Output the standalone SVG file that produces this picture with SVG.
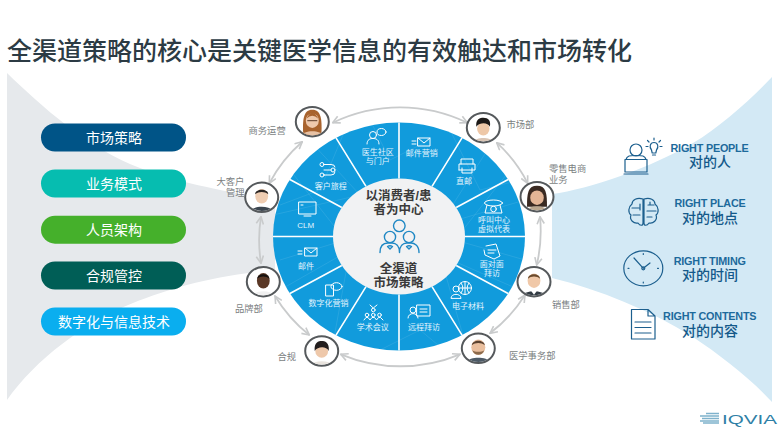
<svg xmlns="http://www.w3.org/2000/svg" width="780" height="433" viewBox="0 0 780 433">
<style>
text{font-family:"Liberation Sans","Noto Sans CJK SC",sans-serif}
.title{font-size:25px;font-weight:500;fill:#2c3b44}
.pill{font-size:14px;fill:#fff;text-anchor:middle}
.out{font-size:9.3px;fill:#7b7f82}
.wl{font-size:8px;fill:#e3f4fc;text-anchor:middle}
.ctr{font-size:12.5px;font-weight:700;fill:#3a3a3a;text-anchor:middle}
.en{font-size:10.8px;font-weight:700;fill:#1d6a9c;letter-spacing:-.2px}
.cn{font-size:14px;font-weight:500;fill:#14598a}
.rt{text-anchor:middle}
.div{stroke:#fff;stroke-width:1.6;fill:none}
.faint{stroke:#6fc3ea;stroke-width:.6;fill:none;opacity:.4}
.ic{fill:none;stroke:#fff;stroke-width:1;stroke-linecap:round;stroke-linejoin:round}
.ib{fill:none;stroke:#1f88c4;stroke-width:1.4;stroke-linecap:round;stroke-linejoin:round}
.rg{fill:none;stroke:#1c5f8e;stroke-width:1.2;stroke-linecap:round;stroke-linejoin:round}
.arr{fill:none;stroke:#c9cbcc;stroke-width:1.8;marker-start:url(#ah);marker-end:url(#ah)}
.ring{fill:#fff;stroke:#55595c;stroke-width:2}
</style>
<defs>
<marker id="ah" viewBox="0 0 10 10" refX="9" refY="5" markerWidth="9" markerHeight="9" markerUnits="userSpaceOnUse" orient="auto-start-reverse"><path d="M1 1L9 5L1 9" fill="none" stroke="#c9cbcc" stroke-width="1.8"/></marker>
<clipPath id="pc"><ellipse rx="15.400" ry="13.600"/></clipPath>
<clipPath id="wc"><ellipse cx="399" cy="236.500" rx="126" ry="114"/></clipPath>
</defs>
<rect width="780" height="433" fill="#fff"/>
<text class="title" x="7" y="60">全渠道策略的核心是关键医学信息的有效触达和市场转化</text>

<path id="funnel-left" d="M7 73C40 105 90 150 140 168C175 181 215 190 275 200L275 270C215 275 170 288 133 303C85 322 35 360 7 400Z" fill="#e6e9ec"/>
<path id="funnel-right" d="M552 194C590 189 650 168 693 143C720 127 750 100 772 77L772 402C750 378 720 355 693 337C650 310 600 290 552 278Z" fill="#d3e9f5"/>

<g id="pills">
<g id="pill-1"><rect x="41" y="123.500" width="145" height="28" rx="14" fill="#005487"/><text class="pill" x="114" y="142.500">市场策略</text></g>
<g id="pill-2"><rect x="41" y="169.500" width="145" height="28" rx="14" fill="#06bdb0"/><text class="pill" x="114" y="188.500">业务模式</text></g>
<g id="pill-3"><rect x="41" y="215.700" width="145" height="28" rx="14" fill="#45b02b"/><text class="pill" x="114" y="234.700">人员架构</text></g>
<g id="pill-4"><rect x="41" y="261.500" width="145" height="28" rx="14" fill="#005e56"/><text class="pill" x="114" y="280.500">合规管控</text></g>
<g id="pill-5"><rect x="41" y="307.500" width="145" height="28" rx="14" fill="#0aaeef"/><text class="pill" x="114" y="326.500">数字化与信息技术</text></g>
</g>

<g id="connectors">
<path class="arr" d="M332.700 122.700A155 155 0 0 1 467.300 122.700"/>
<path class="arr" d="M496.700 142.700A140 140 0 0 1 527.700 183.300"/>
<path class="arr" d="M540 216.700A145 145 0 0 1 536.700 265"/>
<path class="arr" d="M525 295A145 145 0 0 1 490 333.300"/>
<path class="arr" d="M460 354.300A155 155 0 0 1 340.700 354.300"/>
<path class="arr" d="M309.300 335A145 145 0 0 1 275 296"/>
<path class="arr" d="M261 263.300A145 145 0 0 1 261 216.700"/>
<path class="arr" d="M269.300 183.300A145 145 0 0 1 302.300 141.700"/>
</g>

<g id="wheel">
<ellipse cx="399" cy="236.500" rx="126" ry="114" fill="#119bdc"/>
<g clip-path="url(#wc)">
<path class="faint" d="M273 215L360 195L300 130M525 200L440 225L500 130M280 290L350 250L330 360M520 290L440 255L470 360M290 170L345 240L280 260M510 170L455 240L525 260M370 120L390 160L430 140M380 350L420 330L450 355M450 130L480 190L520 180M345 130L320 190L280 205"/>
</g>
<path class="div" d="M399 178.500V122.500M432 186.300L462 137.800M456.200 207.500L508.100 179.500M465 236.500H525M456.200 265.500L508.100 293.500M432 286.700L462 335.200M399 294.500V350.500M366 286.700L336 335.200M341.800 265.500L289.900 293.500M333 236.500H273M341.800 207.500L289.900 179.500M366 186.300L336 137.800"/>
<ellipse cx="399" cy="236.500" rx="66" ry="58" fill="#f1f2f3"/>
</g>

<g id="center">
<text class="ctr"><tspan x="398.500" y="200">以消费者/患</tspan><tspan x="398.500" y="214.200">者为中心</tspan></text>
<g class="ib">
<circle cx="399.300" cy="225.800" r="5.800"/>
<circle cx="390" cy="237" r="5.600"/>
<circle cx="409" cy="237" r="5.600"/>
<path d="M380 252.500C380 244 385 243 388 243L392 243C396 243 399.500 246 399.500 252.500C399.500 246 403 243 407 243L411 243C414 243 419 245 419 252.500"/>
<path d="M387.500 246.500L390 249L392.500 246.500Q390 245 387.500 246.500ZM406.500 246.500L409 249L411.500 246.500Q409 245 406.500 246.500Z"/>
</g>
<text class="ctr"><tspan x="398.500" y="273">全渠道</tspan><tspan x="398.500" y="287.200">市场策略</tspan></text>
</g>

<g id="segments">
<g id="seg-community"><path class="ic" d="M367 144C367 139.500 370 138.500 373 138.500C376 138.500 379 139.500 379 144"/><circle class="ic" cx="373" cy="135" r="3.500"/><ellipse class="ic" cx="381.500" cy="132" rx="4.500" ry="3.500"/><text class="wl"><tspan x="377.700" y="154.500">医生社区</tspan><tspan x="377.700" y="163.600">与门户</tspan></text></g>
<g id="seg-email-mkt"><rect class="ic" x="418" y="138" width="12" height="8"/><path class="ic" d="M418 138L424 143L430 138M412 141H416M412 144H416"/><text class="wl" x="421.700" y="156">邮件营销</text></g>
<g id="seg-mail"><path class="ic" d="M461 164V159H473V164M459 170V164H475V170H459M462 168V173H472V168"/><text class="wl" x="464" y="184">直邮</text></g>
<g id="seg-call"><ellipse class="ic" cx="493.500" cy="203" rx="9" ry="3"/><path class="ic" d="M487 205L485 213H502L500 205"/><circle class="ic" cx="493.500" cy="209" r="2.800"/><text class="wl"><tspan x="494" y="223.300">呼叫中心</tspan><tspan x="494" y="232.400">虚拟代表</tspan></text></g>
<g id="seg-f2f"><path class="ic" d="M486 246L496 244L500 256L494 259L485 255L484 250M488 250H496M488 253H494"/><text class="wl"><tspan x="491.700" y="266.800">面对面</tspan><tspan x="492" y="275.900">拜访</tspan></text></g>
<g id="seg-ematerial"><circle class="ic" cx="465" cy="288" r="6.500"/><path class="ic" d="M458.500 288H471.500M465 281.500V294.500M461 283Q465 288 461 293M469 283Q465 288 469 293"/><circle class="ic" cx="456" cy="289" r="3"/><path class="ic" d="M451 298C451 293 461 293 461 298Z"/><text class="wl" x="468" y="309">电子材料</text></g>
<g id="seg-remote"><rect class="ic" x="417" y="305" width="13" height="11"/><circle class="ic" cx="413" cy="310" r="3"/><path class="ic" d="M408 318C408 312 418 312 418 318M420 309H427M420 312H427"/><text class="wl" x="424" y="329.500">远程拜访</text></g>
<g id="seg-academic"><circle class="ic" cx="373.300" cy="310" r="1.800"/><circle class="ic" cx="367" cy="315" r="1.800"/><circle class="ic" cx="373.300" cy="315" r="1.800"/><circle class="ic" cx="379.500" cy="315" r="1.800"/><path class="ic" d="M364 320L366 317.500H368L370 320L372 317.500H374.500L376.500 320L378.500 317.500H380.500L383 320M370 305L373.300 308L377 305"/><text class="wl" x="372.700" y="329.500">学术会议</text></g>
<g id="seg-digital"><rect class="ic" x="326" y="285" width="7.500" height="11"/><ellipse class="ic" cx="336.500" cy="286.500" rx="5.500" ry="3.800"/><text class="wl" x="328.600" y="306">数字化营销</text></g>
<g id="seg-email"><rect class="ic" x="305" y="248" width="12" height="8"/><path class="ic" d="M305 248L311 253L317 248M298 251H302M298 254H302"/><text class="wl" x="306" y="268.500">邮件</text></g>
<g id="seg-clm"><rect class="ic" x="299" y="202" width="17" height="12"/><path class="ic" d="M304 216H311M301 205H303"/><text class="wl" x="305.700" y="228">CLM</text></g>
<g id="seg-journey"><circle class="ic" cx="322" cy="164.500" r="2"/><circle class="ic" cx="322" cy="175" r="2"/><circle class="ic" cx="333" cy="170" r="2"/><path class="ic" d="M324 164.500H331Q335 164.500 335 167M324 175H331Q335 175 335 172M324 170H331"/><text class="wl" x="330.700" y="189">客户旅程</text></g>
</g>

<g id="node-ops"><ellipse class="ring" cx="312.300" cy="121.700" rx="16.500" ry="14.700"/><g transform="translate(312.300 121.700)" clip-path="url(#pc)"><path d="M-9 14C-10 -2 -9 -12 0 -12C9 -12 10 -2 9 14Z" fill="#a8632e"/><path d="M-12 14C-8 8 8 8 12 14V16H-12Z" fill="#e7c2a5"/><ellipse cy="-1" rx="6.500" ry="7.200" fill="#eec9ad"/><path d="M-6 -3Q0 -9 6 -3Q3 -9 0 -9Q-3 -9 -6 -3Z" fill="#a8632e"/><path d="M-5 -1H5" stroke="#5a3a28" stroke-width="1"/></g><text class="out" x="248.500" y="134">商务运营</text></g>
<g id="node-market"><ellipse class="ring" cx="483.300" cy="127.700" rx="16.500" ry="14.700"/><g transform="translate(483.300 127.700)" clip-path="url(#pc)"><path d="M-10 14C-7 9 7 9 10 14V16H-10Z" fill="#d9c5b5"/><ellipse cy="1" rx="6.200" ry="6.800" fill="#eec8a8"/><path d="M-7 -1C-8 -9 -3 -10 0 -10C5 -10 8 -7 6.500 -1C5 -5 -3 -6 -7 -1Z" fill="#1d1a18"/></g><text class="out" x="506.500" y="127.500">市场部</text></g>
<g id="node-retail"><ellipse class="ring" cx="537" cy="196.700" rx="16.500" ry="14.700"/><g transform="translate(537 196.700)" clip-path="url(#pc)"><path d="M-10 10C-10 -4 -9 -11 0 -11C9 -11 10 -4 10 10Z" fill="#3a2a22"/><path d="M-12 14C-7 8 7 8 12 14V16H-12Z" fill="#b9a68e"/><ellipse cy="1" rx="6.800" ry="7.200" fill="#e3b596"/></g><text class="out"><tspan x="549" y="171.500">零售电商</tspan><tspan x="549" y="182.500">业务</tspan></text></g>
<g id="node-sales"><ellipse class="ring" cx="534" cy="281.700" rx="16.500" ry="14.700"/><g transform="translate(534 281.700)" clip-path="url(#pc)"><path d="M-13 14C-8 8 8 8 13 14V16H-13Z" fill="#333c44"/><path d="M-3 9L0 13L3 9Z" fill="#fff"/><ellipse cy="-1" rx="6.400" ry="7.200" fill="#f0c8a8"/><path d="M-6 -3C-6 -9 6 -9 6 -3C3 -6 -3 -6 -6 -3Z" fill="#6a4a2c"/></g><text class="out" x="552" y="307.500">销售部</text></g>
<g id="node-medical"><ellipse class="ring" cx="478.300" cy="348.300" rx="16.500" ry="14.700"/><g transform="translate(478.300 348.300)" clip-path="url(#pc)"><path d="M-13 14C-8 8 8 8 13 14V16H-13Z" fill="#4d5a66"/><ellipse cy="-1" rx="7" ry="7.800" fill="#eabf9e"/><path d="M-6.500 -3C-6 -9 6 -9 6.500 -3C3 -6 -3 -6 -6.500 -3Z" fill="#5a4230"/><path d="M-6 2C-4 8 4 8 6 2C3 4 -3 4 -6 2Z" fill="#8b6a4c"/></g><text class="out" x="509" y="358.500">医学事务部</text></g>
<g id="node-compliance"><ellipse class="ring" cx="321.700" cy="351" rx="16.500" ry="14.700"/><g transform="translate(321.700 351)" clip-path="url(#pc)"><path d="M-12 14C-7 9 7 9 12 14V16H-12Z" fill="#e9e4de"/><ellipse cy="0" rx="6.400" ry="6.800" fill="#eec8aa"/><path d="M-7 0C-8 -9 -3 -10 0 -10C3 -10 8 -9 7 0C5 -5 -4 -5 -7 0Z" fill="#231e1e"/></g><text class="out" x="277.500" y="360">合规</text></g>
<g id="node-brand"><ellipse class="ring" cx="263.300" cy="281.700" rx="16.500" ry="14.700"/><g transform="translate(263.300 281.700)" clip-path="url(#pc)"><path d="M-12 14C-7 8 7 8 12 14V16H-12Z" fill="#f0f0f0"/><ellipse cy="-1" rx="6.400" ry="7.800" fill="#5a3826"/><path d="M-6 -3C-6 -9 6 -9 6 -3C3 -6 -3 -6 -6 -3Z" fill="#15100e"/></g><text class="out" x="235" y="311.500">品牌部</text></g>
<g id="node-key"><ellipse class="ring" cx="261.700" cy="197.300" rx="16.500" ry="14.700"/><g transform="translate(261.700 197.300)" clip-path="url(#pc)"><path d="M-12 14C-7 8 7 8 12 14V16H-12Z" fill="#3c4650"/><ellipse cy="-1" rx="6.400" ry="7.200" fill="#efcdb2"/><path d="M-6.500 -3C-7 -9 7 -9 6.500 -3C3 -6 -3 -6 -6.500 -3Z" fill="#2b2624"/></g><text class="out"><tspan x="216.500" y="184.500">大客户</tspan><tspan x="226" y="195.500">管理</tspan></text></g>

<g id="right-people"><g class="rg"><circle cx="636" cy="150" r="6"/><path d="M626 159.500C627 155 631 155.500 636 155.500C641 155.500 645 155 646 159.500"/><rect x="625" y="159.500" width="22" height="12.500"/><path d="M624 174H648"/><path d="M651.500 150C649 147 650 142.500 654 142.500C658 142.500 659 147 656.500 150L655.800 153H652.200ZM652.500 155H655.500M654 138V140M647.500 140.500L649 142M660.500 140.500L659 142M646 146.500H648M660 146.500H662"/></g><text class="rt"><tspan class="en" x="709.500" y="151.500">RIGHT PEOPLE</tspan><tspan class="cn" x="710" y="167">对的人</tspan></text></g>
<g id="right-place"><g class="rg"><path d="M643 199C637 197 632 200 632 204C628 207 628 213 631 215C629 220 634 224 638 223C640 226 643 226 643 223V199ZM644 199C650 197 655 200 655 204C659 207 659 213 656 215C658 220 653 224 649 223C647 226 644 226 644 223Z"/><path d="M632 208H639M633 215H640M640 204V210M648 205H654M647 211H656M647 217H652M650 202V205"/></g><text class="rt"><tspan class="en" x="710" y="207">RIGHT PLACE</tspan><tspan class="cn" x="710" y="222.500">对的地点</tspan></text></g>
<g id="right-timing"><g class="rg"><ellipse cx="643.300" cy="268.300" rx="19.500" ry="17.500"/><path d="M634 258L643.300 268.300L650 263"/><circle cx="643.300" cy="268.300" r="1.500"/><path d="M643.300 253.500V254.500M643.300 282V283M628 268.300H629M657.500 268.300H658.500"/></g><text class="rt"><tspan class="en" x="709.700" y="264.500">RIGHT TIMING</tspan><tspan class="cn" x="710" y="280">对的时间</tspan></text></g>
<g id="right-contents"><g class="rg"><path d="M631.500 309.500H648L655 316V339H631.500ZM648 309.500V316H655M635 322H651M635 327.500H651M635 333H651"/></g><text class="rt"><tspan class="en" x="709.700" y="320">RIGHT CONTENTS</tspan><tspan class="cn" x="710" y="335.500">对的内容</tspan></text></g>

<g id="logo"><path d="M700 416H719M702 418.500H719M700 421H719M703 423H719M706 413.500H719" stroke="#7fb2cc" stroke-width="1.400" fill="none"/><text x="722" y="423.500" font-size="13" textLength="55" lengthAdjust="spacingAndGlyphs" style="fill:#2f7fa6">IQVIA</text></g>
</svg>
